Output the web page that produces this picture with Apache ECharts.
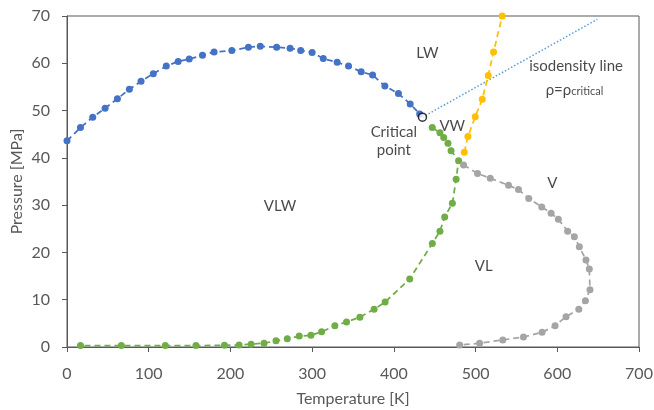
<!DOCTYPE html>
<html>
<head>
<meta charset="utf-8">
<script src="https://cdn.jsdelivr.net/npm/echarts@6/dist/echarts.min.js"></script>
<style>
html,body{margin:0;padding:0;background:#fff;}
#chart{width:654px;height:410px;}
</style>
</head>
<body>
<div id="chart"></div>
<script>
// Axis ticks
const xTicks = [0, 100, 200, 300, 400, 500, 600, 700];
const yTicks = [0, 10, 20, 30, 40, 50, 60, 70];

// Blue: VLW / LW boundary (temperature K, pressure MPa)
const blueT = [0, 16.5, 31.5, 46.6, 61.7, 76.3, 90.6, 105.6, 121.5, 136, 149.6, 165.8, 180, 201.7, 222, 236.5, 256.6, 273, 286, 300, 313.6, 330.6, 344.5, 360, 374, 389, 405.6, 420, 431.6];
const blueP = [43.6, 46.4, 48.6, 50.5, 52.5, 54.5, 56.2, 57.8, 59.4, 60.4, 60.9, 61.7, 62.4, 62.7, 63.4, 63.6, 63.4, 63.2, 62.7, 62.3, 61.0, 60.2, 59.4, 58.2, 57.5, 55.2, 53.6, 51.4, 49.3];

// Green: VLW boundary
const greenT = [447, 456.4, 461, 466.2, 470, 479.2, 476.2, 471.6, 462.2, 456.4, 447.1, 419.4, 389.3, 375.8, 358.4, 342.1, 327.8, 311.6, 298.5, 284.2, 269.6, 255.8, 241.1, 225.3, 210.6, 192.7, 157.8, 120.3, 66.5, 16.5];
const greenP = [46.4, 45.3, 44.3, 43.1, 41.5, 39.4, 35.5, 30.4, 27.5, 24.5, 21.9, 14.4, 9.5, 8.0, 6.3, 5.3, 4.5, 3.2, 2.5, 2.3, 1.75, 1.3, 0.8, 0.6, 0.4, 0.35, 0.3, 0.3, 0.3, 0.3];

// Gray: VL / V boundary
const grayT = [485.3, 502.4, 518, 540.3, 552.5, 565.1, 581, 592.4, 601.3, 612.7, 620.9, 627, 635.1, 639.2, 640, 634.4, 626.3, 610.7, 597.3, 581.4, 558.6, 533.3, 504.9, 480.5];
const grayP = [38.5, 36.7, 35.7, 34.2, 33.3, 31.4, 29.6, 28.3, 27.0, 24.5, 23.3, 21.2, 18.4, 16.5, 12.1, 9.8, 8.0, 6.4, 4.5, 3.1, 2.1, 1.5, 0.8, 0.4];

// Yellow: LW / VW boundary
const yellowT = [486.2, 490.6, 499.6, 508.2, 515.5, 522, 532.6];
const yellowP = [41.2, 44.5, 48.7, 52.4, 57.4, 62.4, 70.0];

// Isodensity line and critical point
const isoT = [435, 649];
const isoP = [48.6, 69.3];
const critT = [435];
const critP = [48.6];

// Region annotations
const noteText = ['LW', 'Critical\npoint', 'VW', 'isodensity line', '{a|ρ=ρ}{s|critical}', 'V', 'VL', 'VLW'];
const noteT = [441, 400, 471.5, 623, 621, 594, 510, 260.7];
const noteP = [62.1, 43.6, 46.6, 59.4, 54.7, 34.6, 17.0, 29.7];

const zip = (a, b) => a.map((v, i) => [v, b[i]]);
const FONT = 'Lato';
const AX = '#595959';

function curve(name, T, P, color) {
  return {
    name, type: 'line', data: zip(T, P), symbol: 'circle', symbolSize: 7,
    clip: false, smooth: false,
    itemStyle: { color },
    lineStyle: { color, width: 1.75, type: [6, 4] },
    emphasis: { disabled: true }, z: 3
  };
}

const chart = echarts.init(document.getElementById('chart'), null, { renderer: 'canvas' });
chart.setOption({
  animation: false,
  backgroundColor: '#fff',
  grid: { left: 67, right: 15, top: 16, bottom: 63, outerBoundsMode: 'none', containLabel: false, show: true, borderColor: AX, borderWidth: 1, backgroundColor: 'transparent' },
  xAxis: {
    type: 'value', min: xTicks[0], max: xTicks[xTicks.length - 1], interval: 100,
    name: 'Temperature [K]', nameLocation: 'middle', nameGap: 44, nameMoveOverlap: false,
    nameTextStyle: { fontFamily: FONT, fontSize: 16, color: AX },
    axisLine: { show: true, lineStyle: { color: AX, width: 1 } },
    axisTick: { show: true, inside: false, length: 5, lineStyle: { color: AX } },
    axisLabel: { fontFamily: FONT, fontSize: 16, color: AX, margin: 19 },
    splitLine: { show: false }
  },
  yAxis: {
    type: 'value', min: yTicks[0], max: yTicks[yTicks.length - 1], interval: 10,
    name: 'Pressure [MPa]', nameLocation: 'middle', nameGap: 42, nameRotate: 90, nameMoveOverlap: false,
    nameTextStyle: { fontFamily: FONT, fontSize: 16, color: AX },
    axisLine: { show: true, lineStyle: { color: AX, width: 1 } },
    axisTick: { show: true, inside: false, length: 5, lineStyle: { color: AX } },
    axisLabel: { fontFamily: FONT, fontSize: 16, color: AX, margin: 17 },
    splitLine: { show: false }
  },
  series: [
    {
      name: 'iso', type: 'line', data: zip(isoT, isoP), symbol: 'none', clip: false,
      lineStyle: { color: '#5B9BD5', width: 1.5, type: [1.5, 2] }, z: 2
    },
    curve('green', greenT, greenP, '#70AD47'),
    curve('gray', grayT, grayP, '#A5A5A5'),
    curve('yellow', yellowT, yellowP, '#FFC000'),
    curve('blue', blueT, blueP, '#4472C4'),
    {
      name: 'critical', type: 'scatter', data: zip(critT, critP), symbol: 'circle', symbolSize: 8,
      itemStyle: { color: '#fff', borderColor: '#000', borderWidth: 1.5 }, z: 5
    },
    {
      name: 'notes', type: 'scatter', symbolSize: 0, z: 6,
      data: noteT.map((t, i) => ({ value: [t, noteP[i]], label: { formatter: noteText[i] } })),
      label: {
        show: true, position: 'inside', color: '#1a1a1a', fontFamily: FONT, fontSize: 15, lineHeight: 18, align: 'center',
        rich: {
          a: { fontFamily: FONT, fontSize: 15, color: '#1a1a1a', lineHeight: 18, verticalAlign: 'bottom' },
          s: { fontFamily: FONT, fontSize: 11, color: '#1a1a1a', lineHeight: 18, verticalAlign: 'bottom', padding: [5, 0, 0, 0] }
        }
      }
    }
  ]
});
</script>
</body>
</html>
